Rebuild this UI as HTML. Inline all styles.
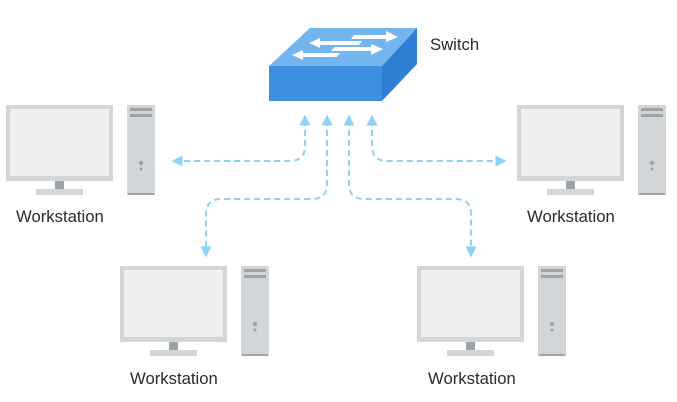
<!DOCTYPE html>
<html><head><style>
html,body{margin:0;padding:0;background:#fff;width:677px;height:402px;overflow:hidden}
text{font-family:"Liberation Sans",sans-serif;font-size:16.7px;fill:#2a2a2a}
</style></head><body>
<svg width="677" height="402" xmlns="http://www.w3.org/2000/svg">
<defs>
<g id="ws">
<rect x="0" y="0" width="107" height="76" fill="#d3d6d8"/>
<rect x="4" y="4" width="99" height="67" fill="#eeeff0"/>
<rect x="49" y="76" width="9" height="9" fill="#9ea3a6"/>
<rect x="30" y="84" width="47" height="6" fill="#d3d6d8"/>
<rect x="121" y="0" width="28" height="90" fill="#d3d6d8"/>
<rect x="124" y="3" width="22" height="3" fill="#9ea3a6"/>
<rect x="124" y="9" width="22" height="3" fill="#9ea3a6"/>
<circle cx="135" cy="58" r="2.2" fill="#9ea3a6"/>
<circle cx="135" cy="64" r="1.5" fill="#9ea3a6"/>
<rect x="122" y="88" width="26" height="2" fill="#9ea3a6"/>
</g>
<marker id="ah" viewBox="0 0 10 10" refX="5" refY="5" markerWidth="11" markerHeight="11" markerUnits="userSpaceOnUse" orient="auto-start-reverse"><path d="M0,0L10,5L0,10z" fill="#8ed3f3"/></marker>
</defs>
<use href="#ws" x="6" y="105"/>
<use href="#ws" x="517" y="105"/>
<use href="#ws" x="120" y="266"/>
<use href="#ws" x="417" y="266"/>
<text x="16" y="222">Workstation</text>
<text x="527" y="222">Workstation</text>
<text x="130" y="384">Workstation</text>
<text x="428" y="384">Workstation</text>
<text x="430" y="50">Switch</text>
<polygon points="269,66 310,28 417,28 382,66" fill="#72b5ef"/>
<rect x="269" y="66" width="113" height="35" fill="#3d8fe0"/>
<polygon points="382,66 417,28 417,64 382,101" fill="#2f7fd4"/>
<g fill="#fff">
<polygon points="354,35 386,35 386,31 398,37 386,42 386,39 351,39"/>
<polygon points="320,41 362,41 359,45 320,45 320,48 309,43 320,38"/>
<polygon points="335,47 371,47 371,44 383,49 371,55 371,51 331,51"/>
<polygon points="303,53 340,53 337,57 303,57 303,60 292,55 303,50"/>
</g>
<g fill="none" stroke="#8ed3f3" stroke-width="2" stroke-dasharray="6,4">
<path d="M305,120 V146 Q305,161 290,161 H177" marker-start="url(#ah)" marker-end="url(#ah)"/>
<path d="M327,120 V184 Q327,199 312,199 H221 Q206,199 206,214 V252" marker-start="url(#ah)" marker-end="url(#ah)"/>
<path d="M349,120 V184 Q349,199 364,199 H456 Q471,199 471,214 V252" marker-start="url(#ah)" marker-end="url(#ah)"/>
<path d="M372,120 V146 Q372,161 387,161 H501" marker-start="url(#ah)" marker-end="url(#ah)"/>
</g>
</svg>
</body></html>
